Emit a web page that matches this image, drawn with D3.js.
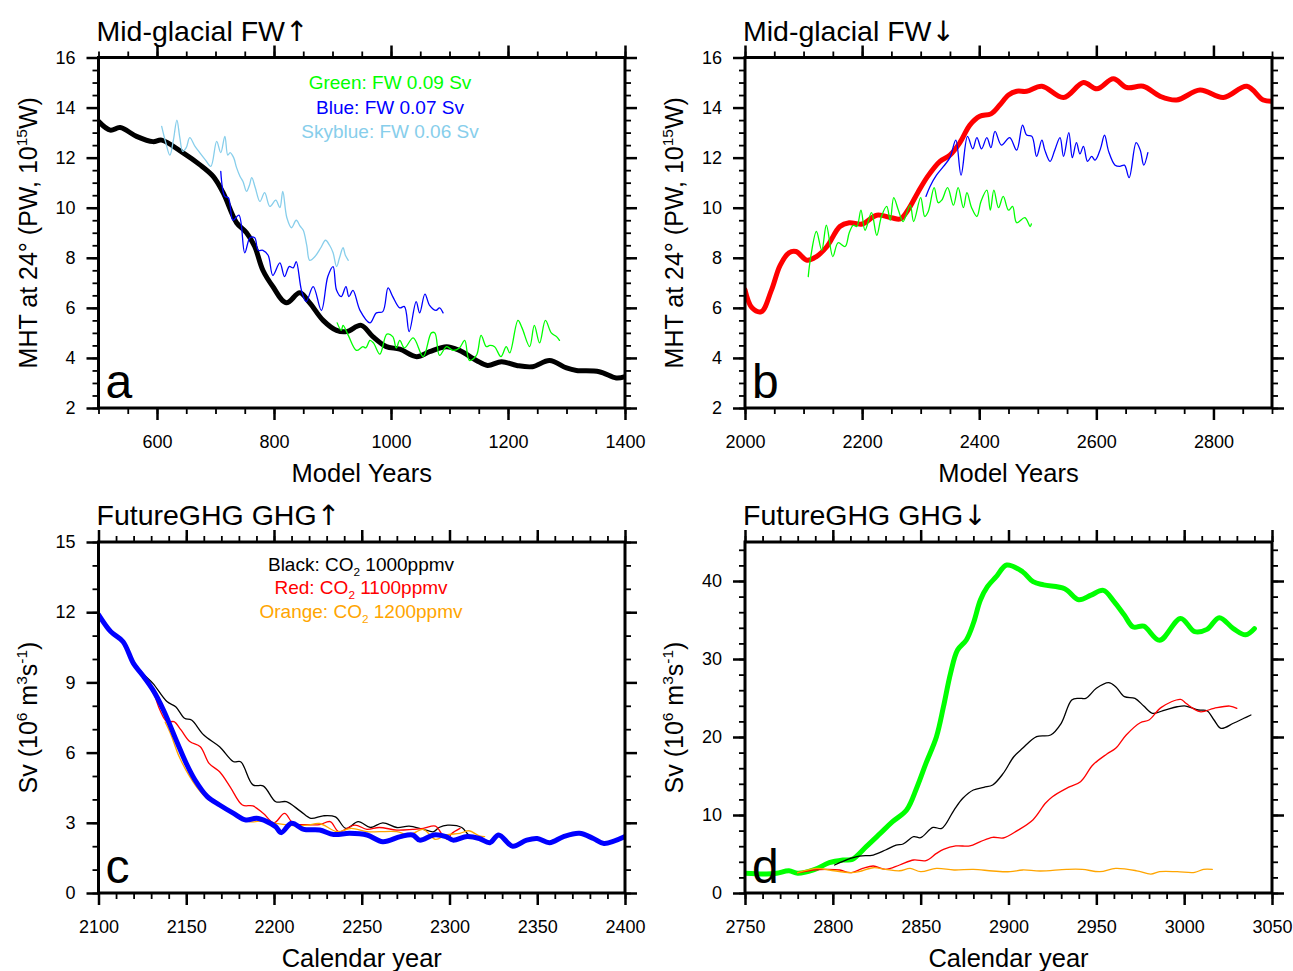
<!DOCTYPE html>
<html>
<head>
<meta charset="utf-8">
<script src="https://cdn.jsdelivr.net/npm/d3@7"></script>
<style>
body { margin: 0; background: #fff; }
text { font-family: "Liberation Sans", Arial, Helvetica, sans-serif; }
</style>
</head>
<body>
<svg id="fig" width="1293" height="971"></svg>
<script>
"use strict";

// ---- panel a : Mid-glacial FW up (MHT, PW) ----
var aBlack = [[500,13.45],[520,13.1],[537,13.2],[565,12.85],[593,12.64],[608,12.7],[644,12.2],[673,11.72],[696,11.25],[713,10.6],[736,9.4],[753,9.0],[767,8.45],[781,7.5],[798,6.85],[821,6.2],[844,6.6],[861,6.2],[884,5.5],[907,5.1],[924,5.05],[949,5.3],[969,4.85],[992,4.45],[1015,4.35],[1044,4.05],[1066,4.25],[1095,4.45],[1117,4.3],[1146,3.9],[1165,3.7],[1189,3.85],[1215,3.7],[1242,3.65],[1271,3.9],[1300,3.6],[1317,3.5],[1356,3.45],[1385,3.2],[1400,3.25]];
var aSkyblue = [[608,13.25],[615,12.6],[622,12.1],[628,12.7],[634,13.5],[639,12.8],[644,12.25],[650,12.4],[656,12.8],[665,12.45],[673,12.2],[683,11.9],[692,11.65],[702,12.65],[709,12.2],[716,12.85],[721,12.1],[725,12.2],[731,12.0],[736,11.6],[742,11.25],[747,11.05],[753,10.65],[758,10.9],[762,11.2],[768,10.8],[776,10.25],[784,10.6],[793,10.05],[803,10.3],[810,10.0],[815,10.65],[822,9.6],[830,9.2],[838,9.5],[845,9.25],[850,9.1],[856,8.5],[861,7.9],[870,8.05],[880,8.4],[888,8.7],[895,8.5],[901,8.2],[907,7.65],[912,8.0],[918,8.4],[922,8.1],[927,7.9]];
var aBlue = [[709,11.45],[716,10.45],[722,10.4],[730,9.5],[740,9.7],[750,8.2],[759,8.8],[767,8.8],[773,8.3],[781,8.3],[790,8.1],[798,7.3],[810,7.8],[818,7.25],[826,7.65],[833,7.6],[838,7.85],[847,6.7],[855,6.25],[867,6.85],[881,5.9],[892,7.25],[901,7.65],[907,6.7],[915,6.45],[923,6.85],[928,6.45],[935,6.7],[947,5.9],[964,5.4],[975,5.8],[986,5.85],[995,6.8],[1003,6.45],[1015,6.0],[1023,6.05],[1031,5.05],[1043,6.25],[1049,5.8],[1058,6.55],[1066,6.1],[1077,5.9],[1083,6.0],[1089,5.8]];
var aGreen = [[908,5.4],[915,5.1],[918,5.3],[927,4.9],[941,4.3],[952,4.45],[957,4.4],[964,4.7],[970,4.6],[981,4.15],[993,4.95],[1003,4.85],[1009,4.4],[1015,4.7],[1023,4.4],[1038,4.8],[1055,4.05],[1069,5.0],[1075,5.0],[1083,4.1],[1095,4.45],[1106,4.3],[1117,4.4],[1126,4.7],[1134,3.9],[1146,4.1],[1154,4.9],[1163,4.45],[1169,4.5],[1177,4.45],[1188,4.05],[1197,4.45],[1203,4.2],[1217,5.5],[1224,5.2],[1237,4.45],[1245,5.3],[1254,4.6],[1264,5.5],[1274,5.0],[1283,4.85],[1288,4.7]];

// ---- panel b : Mid-glacial FW down ----
var bRed = [[2000,6.72],[2012,6.0],[2028,5.85],[2045,6.7],[2060,7.7],[2075,8.2],[2087,8.25],[2106,7.9],[2122,8.05],[2140,8.45],[2162,9.25],[2178,9.4],[2200,9.35],[2225,9.7],[2250,9.6],[2265,9.55],[2278,9.9],[2295,10.6],[2312,11.25],[2333,11.85],[2350,12.1],[2367,12.6],[2384,13.3],[2401,13.65],[2420,13.75],[2435,14.1],[2450,14.5],[2464,14.65],[2481,14.65],[2507,14.85],[2544,14.4],[2578,15.0],[2601,14.75],[2629,15.15],[2652,14.8],[2680,14.85],[2709,14.45],[2737,14.3],[2777,14.7],[2817,14.4],[2857,14.85],[2885,14.3],[2900,14.25]];
var bGreen = [[2108,7.25],[2112,8.0],[2122,9.05],[2131,8.3],[2139,9.3],[2150,8.05],[2159,8.6],[2171,8.45],[2178,9.0],[2185,9.3],[2191,9.25],[2198,9.9],[2205,9.1],[2216,9.8],[2225,8.9],[2233,9.65],[2242,10.05],[2248,9.5],[2254,10.4],[2262,9.9],[2270,9.45],[2282,10.1],[2288,9.45],[2300,10.4],[2307,9.65],[2313,9.85],[2323,10.8],[2330,10.2],[2336,10.3],[2346,10.8],[2356,10.1],[2364,10.8],[2373,10.0],[2379,10.6],[2387,10.0],[2396,9.65],[2403,10.25],[2413,10.7],[2419,9.9],[2425,10.7],[2433,10.0],[2441,10.45],[2450,9.9],[2457,10.05],[2464,9.4],[2478,9.6],[2487,9.25],[2489,9.35]];
var bBlue = [[2309,10.45],[2316,10.85],[2327,11.3],[2339,11.65],[2350,12.0],[2360,12.7],[2369,11.3],[2380,12.85],[2389,12.35],[2396,12.8],[2404,12.35],[2413,12.8],[2420,12.4],[2427,13.05],[2438,12.5],[2452,12.8],[2464,12.3],[2474,13.3],[2481,12.9],[2490,12.85],[2498,12.05],[2507,12.7],[2512,12.3],[2521,11.85],[2529,12.3],[2538,12.8],[2544,12.05],[2553,13.0],[2559,12.0],[2566,12.6],[2572,12.15],[2578,12.45],[2585,11.85],[2592,12.05],[2598,11.9],[2607,12.35],[2614,12.9],[2621,12.25],[2632,11.7],[2640,11.65],[2648,11.7],[2656,11.2],[2668,12.6],[2675,12.3],[2681,11.7],[2688,12.2]];

// ---- panel c : FutureGHG GHG up (Sv) ----
var cBlue = [[2100,11.9],[2107,11.17],[2114,10.74],[2120,9.8],[2125,9.32],[2131,8.68],[2137,7.82],[2145,6.4],[2150,5.54],[2155,4.83],[2162,4.12],[2169,3.76],[2177,3.4],[2184,3.12],[2190,3.19],[2196,3.05],[2201,2.83],[2204,2.58],[2210,2.98],[2217,2.72],[2226,2.69],[2234,2.5],[2243,2.55],[2253,2.48],[2262,2.19],[2272,2.41],[2279,2.48],[2283,2.26],[2291,2.48],[2298,2.41],[2302,2.26],[2310,2.41],[2317,2.33],[2323,2.15],[2328,2.48],[2336,2.0],[2344,2.26],[2350,2.33],[2357,2.15],[2365,2.41],[2374,2.55],[2382,2.33],[2388,2.12],[2400,2.41]];
var cBlack = [[2100,11.9],[2107,11.2],[2114,10.8],[2120,9.9],[2125,9.4],[2131,8.96],[2139,8.18],[2144,7.96],[2149,7.47],[2153,7.39],[2160,6.75],[2169,6.25],[2177,5.61],[2181,5.61],[2188,4.62],[2194,4.57],[2201,3.9],[2207,3.9],[2215,3.5],[2221,3.19],[2228,3.3],[2235,3.25],[2241,2.76],[2248,3.05],[2255,2.8],[2262,3.0],[2270,2.8],[2277,2.86],[2285,2.72],[2291,2.62],[2294,2.8],[2299,2.9],[2307,2.8],[2311,2.48],[2314,2.44]];
var cRed = [[2125,9.32],[2130,8.82],[2135,7.82],[2139,7.32],[2143,7.32],[2147,6.97],[2152,6.47],[2158,6.25],[2163,5.54],[2169,5.18],[2175,4.54],[2182,3.76],[2188,3.72],[2194,3.4],[2200,3.0],[2206,3.4],[2211,2.98],[2219,2.92],[2226,2.92],[2232,3.05],[2237,2.62],[2246,2.9],[2253,2.72],[2260,2.8],[2270,2.69],[2279,2.72],[2285,2.76],[2292,2.86],[2296,2.48],[2299,2.29],[2301,2.52],[2306,2.76]];
var cOrange = [[2138,7.3],[2141,6.82],[2146,5.82],[2152,4.97],[2158,4.33],[2163,3.97],[2171,3.69],[2179,3.33],[2186,3.05],[2194,3.08],[2201,2.98],[2211,2.88],[2219,2.9],[2226,2.97],[2236,2.62],[2244,2.76],[2253,2.62],[2260,2.62],[2270,2.62],[2277,2.48],[2285,2.72],[2292,2.29],[2298,2.48],[2306,2.55],[2311,2.66],[2317,2.44],[2320,2.41]];

// ---- panel d : FutureGHG GHG down ----
var dGreen = [[2750,2.52],[2762,2.43],[2768,2.52],[2775,2.85],[2780,2.52],[2789,2.95],[2798,3.88],[2806,4.23],[2811,4.31],[2819,5.94],[2827,7.64],[2834,9.14],[2842,10.64],[2848,13.63],[2853,16.62],[2859,20.04],[2863,23.9],[2867,28.17],[2871,31.15],[2876,32.44],[2880,34.58],[2884,37.56],[2888,39.27],[2893,40.55],[2899,42.05],[2908,41.19],[2914,39.91],[2920,39.5],[2932,39.0],[2940,37.6],[2947,38.2],[2954,38.8],[2960,37.4],[2966,35.6],[2971,34.1],[2977,34.2],[2986,32.4],[2998,35.2],[3006,33.5],[3013,33.8],[3020,35.3],[3028,33.9],[3035,33.1],[3040,33.9]];
var dBlack = [[2801,3.59],[2810,4.44],[2815,4.74],[2823,4.87],[2830,5.51],[2836,6.15],[2840,6.28],[2846,7.22],[2850,7.09],[2857,8.41],[2862,8.28],[2869,10.64],[2874,12.14],[2880,13.2],[2886,13.55],[2891,13.85],[2897,15.33],[2903,17.47],[2908,18.55],[2916,20.04],[2924,20.26],[2930,21.76],[2936,24.74],[2940,24.96],[2944,24.96],[2950,26.24],[2957,26.96],[2961,26.45],[2966,25.17],[2972,24.96],[2977,23.97],[2982,23.04],[2989,23.46],[2996,23.88],[3001,23.97],[3008,23.46],[3013,23.37],[3017,22.18],[3021,21.11],[3028,21.76],[3034,22.4],[3038,22.82]];
var dRed = [[2780,2.6],[2789,2.95],[2797,3.03],[2804,2.95],[2810,2.6],[2817,3.15],[2823,3.46],[2830,3.03],[2838,3.59],[2846,4.23],[2853,4.14],[2859,5.08],[2863,5.59],[2870,6.03],[2878,6.03],[2884,6.58],[2891,7.14],[2897,7.05],[2905,8.0],[2914,9.4],[2921,11.5],[2925,12.35],[2933,13.42],[2941,14.27],[2948,16.41],[2956,17.82],[2961,18.55],[2967,20.26],[2975,21.83],[2980,22.18],[2987,23.8],[2998,24.83],[3001,24.32],[3009,23.24],[3017,23.68],[3026,23.97],[3030,23.68]];
var dOrange = [[2780,2.6],[2791,3.15],[2798,2.95],[2810,2.6],[2815,2.73],[2823,3.24],[2830,3.03],[2838,2.85],[2844,3.15],[2850,2.73],[2859,3.15],[2869,2.95],[2880,3.03],[2891,2.82],[2901,2.73],[2908,2.95],[2918,2.82],[2933,3.03],[2942,3.03],[2952,2.73],[2961,3.15],[2973,2.85],[2981,2.43],[2986,2.73],[2996,2.73],[3006,2.64],[3011,3.03],[3016,3.03]];

// labels
var mhtLabel = [{t:"MHT at 24\u00b0 (PW, 10"},{t:"15",s:"sup"},{t:"W)"}];
var svLabel = [{t:"Sv (10"},{t:"6",s:"sup"},{t:" m"},{t:"3",s:"sup"},{t:"s"},{t:"-1",s:"sup"},{t:")"}];
var legendA = [
   {parts:[{t:"Green: FW 0.09 Sv"}], color:"#00ff00"},
   {parts:[{t:"Blue: FW 0.07 Sv"}], color:"#0000ff"},
   {parts:[{t:"Skyblue: FW 0.06 Sv"}], color:"#87ceeb"}
];
var legendC = [
   {parts:[{t:"Black: CO"},{t:"2",s:"sub"},{t:" 1000ppmv"}], color:"#000000"},
   {parts:[{t:"Red: CO"},{t:"2",s:"sub"},{t:" 1100ppmv"}], color:"#ff0000"},
   {parts:[{t:"Orange: CO"},{t:"2",s:"sub"},{t:" 1200ppmv"}], color:"#ffa500"}
];

var svg = d3.select("#fig");
svg.append("rect").attr("width", 1293).attr("height", 971).attr("fill", "#fff");

function richText(sel, parts, size) {
   var cur = 0;
   parts.forEach(function (p) {
      var target = p.s === "sup" ? -size * 0.4 : (p.s === "sub" ? size * 0.25 : 0);
      sel.append("tspan").attr("dy", target - cur)
         .style("font-size", (p.s ? size * 0.62 : size) + "px").text(p.t);
      cur = target;
   });
}

var panels = [
   {id:"a", left:98.5, right:625, top:57.5, bottom:408, xDom:[500,1400], yDom:[2,16],
    xMajor:d3.range(600,1401,200), xMinor:d3.range(500,1401,50),
    yMajor:d3.range(2,17,2), yMinor:d3.range(2,16.01,0.5),
    title:"Mid-glacial FW", arrow:"\u2191", xTitle:"Model Years", yTitle:mhtLabel, letter:"a",
    series:[{d:aBlack,c:"#000",w:5},{d:aSkyblue,c:"#87ceeb",w:1.3},{d:aBlue,c:"#0000ff",w:1.3},{d:aGreen,c:"#00ff00",w:1.3}],
    legend:legendA, legX:390, legY:[89,114,138]},
   {id:"b", left:745, right:1272, top:57.5, bottom:408, xDom:[2000,2900], yDom:[2,16],
    xMajor:d3.range(2000,2801,200), xMinor:d3.range(2000,2901,50),
    yMajor:d3.range(2,17,2), yMinor:d3.range(2,16.01,0.5),
    title:"Mid-glacial FW", arrow:"\u2193", xTitle:"Model Years", yTitle:mhtLabel, letter:"b",
    series:[{d:bRed,c:"#ff0000",w:5},{d:bGreen,c:"#00ff00",w:1.3},{d:bBlue,c:"#0000ff",w:1.3}]},
   {id:"c", left:98.5, right:625, top:542, bottom:893, xDom:[2100,2400], yDom:[0,15],
    xMajor:d3.range(2100,2401,50), xMinor:d3.range(2100,2401,10),
    yMajor:d3.range(0,16,3), yMinor:d3.range(0,16,1),
    title:"FutureGHG GHG", arrow:"\u2191", xTitle:"Calendar year", yTitle:svLabel, letter:"c",
    series:[{d:cBlack,c:"#000",w:1.3},{d:cRed,c:"#ff0000",w:1.3},{d:cOrange,c:"#ffa500",w:1.3},{d:cBlue,c:"#0000ff",w:5}],
    legend:legendC, legX:361, legY:[571,594,618]},
   {id:"d", left:745, right:1272, top:542, bottom:893, xDom:[2750,3050], yDom:[0,45],
    xMajor:d3.range(2750,3051,50), xMinor:d3.range(2750,3051,10),
    yMajor:d3.range(0,41,10), yMinor:d3.range(0,46,2),
    title:"FutureGHG GHG", arrow:"\u2193", xTitle:"Calendar year", yTitle:svLabel, letter:"d",
    series:[{d:dGreen,c:"#00ff00",w:5},{d:dBlack,c:"#000",w:1.3},{d:dRed,c:"#ff0000",w:1.3},{d:dOrange,c:"#ffa500",w:1.3}]}
];

panels.forEach(function (p) {
   var x = d3.scaleLinear().domain(p.xDom).range([p.left, p.right]);
   var y = d3.scaleLinear().domain(p.yDom).range([p.bottom, p.top]);
   var g = svg.append("g");

   g.append("clipPath").attr("id", "clip-" + p.id).append("rect")
      .attr("x", p.left).attr("y", p.top).attr("width", p.right - p.left).attr("height", p.bottom - p.top);

   var line = d3.line().x(function (d) { return x(d[0]); }).y(function (d) { return y(d[1]); })
      .curve(d3.curveCatmullRom.alpha(0.5));

   p.series.forEach(function (s) {
      g.append("path").datum(s.d).attr("d", line).attr("fill", "none")
         .attr("stroke", s.c).attr("stroke-width", s.w).attr("stroke-linejoin", "round")
         .attr("stroke-linecap", "round").attr("clip-path", "url(#clip-" + p.id + ")");
   });

   // axes: major + minor ticks on all four sides, pointing outward
   function put(axis, tx, ty, w) {
      var a = g.append("g").attr("transform", "translate(" + tx + "," + ty + ")").call(axis);
      a.select(".domain").remove();
      a.selectAll(".tick line").attr("stroke", "#000").attr("stroke-width", w);
      a.selectAll("text").style("font-size", "18px").attr("fill", "#000");
      return a;
   }
   put(d3.axisBottom(x).tickValues(p.xMinor).tickSize(6).tickFormat(""), 0, p.bottom, 1.8);
   put(d3.axisTop(x).tickValues(p.xMinor).tickSize(6).tickFormat(""), 0, p.top, 1.8);
   put(d3.axisLeft(y).tickValues(p.yMinor).tickSize(6).tickFormat(""), p.left, 0, 1.8);
   put(d3.axisRight(y).tickValues(p.yMinor).tickSize(6).tickFormat(""), p.right, 0, 1.8);
   put(d3.axisBottom(x).tickValues(p.xMajor).tickSize(12).tickPadding(15).tickFormat(d3.format("d")), 0, p.bottom, 2.5);
   put(d3.axisTop(x).tickValues(p.xMajor).tickSize(12).tickFormat(""), 0, p.top, 2.5);
   put(d3.axisLeft(y).tickValues(p.yMajor).tickSize(12).tickPadding(11).tickFormat(d3.format("d")), p.left, 0, 2.5);
   put(d3.axisRight(y).tickValues(p.yMajor).tickSize(12).tickFormat(""), p.right, 0, 2.5);

   g.append("rect").attr("x", p.left).attr("y", p.top)
      .attr("width", p.right - p.left).attr("height", p.bottom - p.top)
      .attr("fill", "none").attr("stroke", "#000").attr("stroke-width", 3);

   // titles
   var tt = g.append("text").attr("x", p.left - 2).attr("y", p.top - 17).style("font-size", "28.5px");
   tt.append("tspan").text(p.title);
   tt.append("tspan").style("font-family", "'DejaVu Sans'").style("font-size", "28px").text(p.arrow);

   g.append("text").attr("x", (p.left + p.right) / 2).attr("y", p.bottom + 74)
      .attr("text-anchor", "middle").style("font-size", "25.5px").text(p.xTitle);
   var yt = g.append("text").attr("text-anchor", "middle")
      .attr("transform", "translate(" + (p.left - 62) + "," + ((p.top + p.bottom) / 2) + ") rotate(-90)");
   richText(yt, p.yTitle, 25);

   g.append("text").attr("x", p.left + 7).attr("y", p.bottom - 10)
      .style("font-size", "48px").text(p.letter);

   if (p.legend) {
      p.legend.forEach(function (l, i) {
         var t = g.append("text").attr("x", p.legX).attr("y", p.legY[i])
            .attr("text-anchor", "middle").attr("fill", l.color);
         richText(t, l.parts, 19);
      });
   }
});
</script>
</body>
</html>
